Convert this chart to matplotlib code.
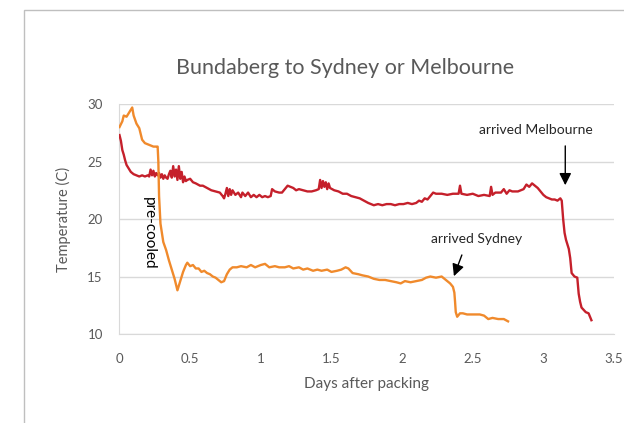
import matplotlib
matplotlib.use('Agg')
import matplotlib.pyplot as plt
from matplotlib.patches import Rectangle

plt.rcParams.update({'font.family': ['Lato', 'DejaVu Sans']})

TXT = '#595959'
GRID = '#D9D9D9'
RED = '#C5202B'
ORANGE = '#F08A2C'

# Sydney load (orange): days after packing, temperature
syd_days = [0.00, 0.02, 0.03, 0.05, 0.07, 0.09, 0.10, 0.12, 0.14, 0.16, 0.18, 0.20,
            0.22, 0.24, 0.26, 0.27, 0.275, 0.28, 0.29, 0.31, 0.33, 0.35, 0.37, 0.39,
            0.41, 0.43, 0.45, 0.47, 0.48, 0.50, 0.52, 0.54, 0.56, 0.58, 0.60, 0.62,
            0.64, 0.66, 0.68, 0.70, 0.72, 0.74, 0.76, 0.78, 0.80, 0.83, 0.86, 0.90,
            0.93, 0.96, 1.00, 1.03, 1.06, 1.10, 1.13, 1.17, 1.20, 1.23, 1.27, 1.30,
            1.33, 1.37, 1.40, 1.43, 1.47, 1.50, 1.54, 1.57, 1.60, 1.62, 1.65, 1.69,
            1.72, 1.76, 1.80, 1.84, 1.88, 1.92, 1.96, 1.99, 2.02, 2.06, 2.10, 2.14,
            2.17, 2.20, 2.24, 2.28, 2.31, 2.34, 2.36, 2.37, 2.375, 2.38, 2.39, 2.41,
            2.43, 2.46, 2.50, 2.55, 2.58, 2.61, 2.64, 2.68, 2.72, 2.75]
syd_temp = [28.0, 28.5, 29.0, 28.9, 29.3, 29.7, 29.0, 28.3, 27.9, 26.9, 26.6, 26.5,
            26.4, 26.3, 26.3, 26.3, 25.0, 22.0, 19.6, 18.0, 17.3, 16.4, 15.6, 14.8,
            13.8, 14.6, 15.4, 16.0, 16.2, 15.9, 16.0, 15.7, 15.7, 15.4, 15.5, 15.3,
            15.2, 15.0, 14.9, 14.7, 14.5, 14.6, 15.2, 15.6, 15.8, 15.8, 15.9, 15.8,
            16.0, 15.8, 16.0, 16.1, 15.8, 15.9, 15.8, 15.8, 15.9, 15.7, 15.8, 15.6,
            15.7, 15.5, 15.6, 15.5, 15.6, 15.4, 15.5, 15.6, 15.8, 15.7, 15.3, 15.2,
            15.1, 15.0, 14.8, 14.7, 14.7, 14.6, 14.5, 14.4, 14.6, 14.5, 14.6, 14.7,
            14.9, 15.0, 14.9, 15.0, 14.7, 14.4, 14.1, 13.6, 12.8, 11.9, 11.5, 11.8,
            11.8, 11.7, 11.7, 11.7, 11.6, 11.3, 11.4, 11.3, 11.3, 11.1]

# Melbourne load (red)
mel_days = [0.00, 0.01, 0.02, 0.03, 0.04, 0.05, 0.06, 0.07, 0.08, 0.10, 0.12, 0.14,
            0.16, 0.18, 0.20, 0.21, 0.22, 0.23, 0.24, 0.25, 0.26, 0.27, 0.28, 0.29,
            0.30, 0.31, 0.32, 0.33, 0.34, 0.35, 0.36, 0.37, 0.38, 0.39, 0.40, 0.41,
            0.42, 0.43, 0.44, 0.45, 0.46, 0.47, 0.48, 0.50, 0.52, 0.54, 0.57, 0.59,
            0.62, 0.65, 0.68, 0.71, 0.73, 0.74, 0.75, 0.76, 0.77, 0.78, 0.79, 0.80,
            0.82, 0.84, 0.86, 0.87, 0.89, 0.91, 0.93, 0.95, 0.97, 0.99, 1.01, 1.03,
            1.05, 1.07, 1.08, 1.10, 1.13, 1.15, 1.17, 1.19, 1.21, 1.23, 1.25, 1.27,
            1.30, 1.33, 1.36, 1.39, 1.41, 1.42, 1.43, 1.44, 1.45, 1.46, 1.47, 1.48,
            1.49, 1.52, 1.55, 1.58, 1.61, 1.64, 1.67, 1.70, 1.73, 1.76, 1.78, 1.80,
            1.83, 1.86, 1.89, 1.92, 1.95, 1.98, 2.01, 2.04, 2.07, 2.10, 2.12, 2.14,
            2.16, 2.18, 2.20, 2.22, 2.24, 2.28, 2.32, 2.36, 2.40, 2.41, 2.42, 2.46,
            2.50, 2.54, 2.58, 2.62, 2.63, 2.64, 2.66, 2.70, 2.72, 2.74, 2.76, 2.78,
            2.82, 2.86, 2.88, 2.90, 2.92, 2.94, 2.96, 2.98, 3.00, 3.02, 3.04, 3.06,
            3.08, 3.10, 3.12, 3.13, 3.14, 3.15, 3.16, 3.18, 3.19, 3.20, 3.22, 3.24,
            3.25, 3.26, 3.27, 3.30, 3.32, 3.33, 3.34]
mel_temp = [27.3, 26.8, 26.0, 25.6, 25.1, 24.7, 24.5, 24.3, 24.1, 23.9, 23.8, 23.7,
            23.8, 23.7, 23.8, 23.7, 24.3, 23.8, 24.2, 23.7, 24.0, 23.8, 24.0, 23.6,
            23.9, 23.5, 23.8, 23.6, 23.5, 23.9, 24.2, 23.6, 24.6, 23.7, 24.3, 23.4,
            24.6, 23.5, 24.1, 23.2, 23.7, 23.3, 23.4, 23.5, 23.2, 23.1, 22.9, 22.9,
            22.7, 22.5, 22.4, 22.3, 22.0, 21.8, 22.2, 22.7, 22.0, 22.6, 22.1, 22.5,
            22.1, 22.3, 21.9, 22.3, 22.0, 22.3, 21.9, 22.1, 21.9, 22.1, 21.9, 22.0,
            21.9, 22.0, 22.6, 22.4, 22.3, 22.3, 22.6, 22.9, 22.8, 22.7, 22.5, 22.6,
            22.5, 22.4, 22.4, 22.5, 22.6, 23.4, 22.7, 23.3, 22.8, 23.2, 22.6, 23.1,
            22.7, 22.5, 22.4, 22.2, 22.2, 22.0, 21.9, 21.8, 21.6, 21.4, 21.3, 21.2,
            21.3, 21.2, 21.3, 21.3, 21.2, 21.3, 21.3, 21.4, 21.3, 21.4, 21.6, 21.5,
            21.8, 21.7, 22.0, 22.3, 22.2, 22.2, 22.1, 22.2, 22.2, 22.9, 22.2, 22.1,
            22.2, 22.0, 22.1, 22.0, 22.8, 22.1, 22.3, 22.3, 22.6, 22.2, 22.5, 22.4,
            22.4, 22.6, 23.0, 22.8, 23.1, 22.9, 22.7, 22.4, 22.1, 21.9, 21.8, 21.7,
            21.7, 21.6, 21.8, 21.6, 20.0, 18.8, 18.2, 17.4, 16.6, 15.3, 15.0, 14.9,
            13.5, 12.8, 12.3, 11.9, 11.8, 11.5, 11.2]

x_ticks = [0, 0.5, 1, 1.5, 2, 2.5, 3, 3.5]
x_tick_labels = ['0', '0.5', '1', '1.5', '2', '2.5', '3', '3.5']
y_ticks = [10, 15, 20, 25, 30]

fig = plt.figure(figsize=(6.24, 4.23), dpi=100)
ax = fig.add_axes([0.1915, 0.2104, 0.7925, 0.5436])

# outer chart frame
fig.add_artist(Rectangle((24/624, -0.5), 2, 0.976 + 0.5, transform=fig.transFigure,
                         fill=False, edgecolor='#BFBFBF', lw=1))

ax.plot(mel_days, mel_temp, color=RED, lw=1.7, zorder=3)
ax.plot(syd_days, syd_temp, color=ORANGE, lw=1.7, zorder=3)

ax.set_xlim(0, 3.5); ax.set_ylim(10, 30)
ax.set_xticks(x_ticks); ax.set_xticklabels(x_tick_labels)
ax.set_yticks(y_ticks)
ax.tick_params(length=0, colors=TXT, labelsize=9.5)
ax.tick_params(axis='x', pad=14)
ax.tick_params(axis='y', pad=12)
ax.grid(axis='y', color=GRID, lw=1)
ax.set_axisbelow(True)
for s in ['top', 'right']: ax.spines[s].set_visible(False)
for s in ['left', 'bottom']: ax.spines[s].set_color(GRID)

ax.set_xlabel('Days after packing', color=TXT, fontsize=11, labelpad=8)
ax.set_ylabel('Temperature (C)', color=TXT, fontsize=10.5, labelpad=12)
fig.text(0.553, 0.84, 'Bundaberg to Sydney or Melbourne', ha='center', va='center',
         color=TXT, fontsize=15.5)

arrow = dict(arrowstyle='-|>', color='black', lw=1, mutation_scale=18)
ax.text(2.95, 27.75, 'arrived Melbourne', ha='center', va='center',
        fontsize=10, color='#262626')
ax.annotate('', xy=(3.155, 22.7), xytext=(3.155, 26.6), arrowprops=arrow)
ax.text(2.53, 18.25, 'arrived Sydney', ha='center', va='center',
        fontsize=10, color='#262626')
ax.annotate('', xy=(2.36, 14.8), xytext=(2.43, 17.1), arrowprops=arrow)
ax.text(0.21, 18.8, 'pre-cooled', rotation=-90, ha='center', va='center',
        fontsize=11, color='black')

fig.savefig('out.png', dpi=100)
